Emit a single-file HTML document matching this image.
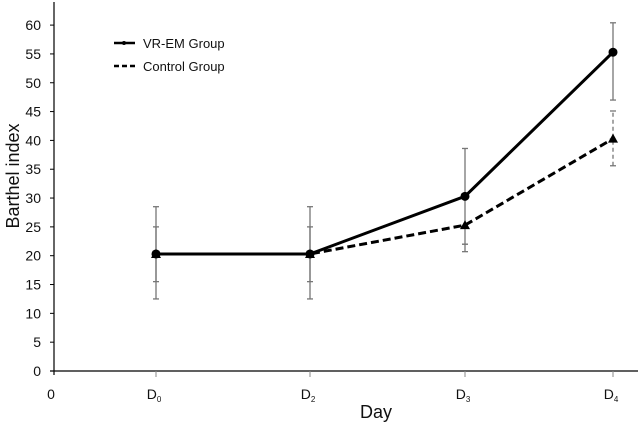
<!DOCTYPE html>
<html><head><meta charset="utf-8"><style>
body{margin:0;background:#fff;}
svg text{font-family:"Liberation Sans",sans-serif;fill:#111;}
</style></head><body>
<svg id="chart" width="638" height="424" xmlns="http://www.w3.org/2000/svg">
<g id="axes"></g>
<g id="marks"></g>
<text transform="translate(19,176) rotate(-90)" font-size="18" text-anchor="middle">Barthel index</text>
<text x="376" y="418" font-size="18" text-anchor="middle">Day</text>
<g>
<g>
<line x1="114" y1="43" x2="135" y2="43" stroke="#000" stroke-width="2.5"/><circle cx="124" cy="43" r="2" fill="#000"/>
<text x="143" y="48" font-size="13">VR-EM Group</text></g>
<g>
<line x1="114" y1="66" x2="135" y2="66" stroke="#000" stroke-width="2.5" stroke-dasharray="5,3"/>
<text x="143" y="71" font-size="13">Control Group</text></g>
</g>
</svg>
<script>
const categories=["D0","D2","D3","D4"];
const vrValues=[20.3,20.3,30.3,55.3];
const controlValues=[20.3,20.3,25.3,40.3];
const vrLow=[12.5,12.5,22,47];
const vrHigh=[28.5,28.5,38.6,60.4];
const ctrlLow=[15.5,15.5,20.7,35.6];
const ctrlHigh=[25,25,22,45.1];
const yTicks=[0,5,10,15,20,25,30,35,40,45,50,55,60];

const NS="http://www.w3.org/2000/svg";
const xPos=[156,310,465,613];
function xScale(i){return xPos[i];}
function yScale(v){return 371-5.765*v;}
function mk(tag,attrs,parent){const e=document.createElementNS(NS,tag);for(const k in attrs)e.setAttribute(k,attrs[k]);parent.appendChild(e);return e;}
const axes=document.getElementById('axes'),marks=document.getElementById('marks');
let a=mk('line',{x1:54,y1:2,x2:54,y2:375,stroke:'#000','stroke-width':1.2},axes);


a=mk('line',{x1:50,y1:371,x2:638,y2:371,stroke:'#000','stroke-width':1.2},axes);


yTicks.forEach(v=>{
  mk('line',{x1:50,y1:yScale(v),x2:54,y2:yScale(v),stroke:'#000'},axes);
  const t=mk('text',{x:41,y:yScale(v)+5,'font-size':14,'text-anchor':'end'},axes);
  t.textContent=v;
  
  
});
let z=mk('text',{x:51,y:399,'font-size':14,'text-anchor':'middle'},axes);z.textContent='0';


categories.forEach((c,i)=>{
  const x=xScale(i);
  mk('line',{x1:x,y1:371,x2:x,y2:377,stroke:'#888'},axes);
  const t=mk('text',{x:x-2,y:399,'font-size':14,'text-anchor':'middle'},axes);
  t.innerHTML=c[0]+'<tspan font-size="8" dy="3">'+c.slice(1)+'</tspan>';
  
  
});
function errbar(i,lo,hi,dash,name){
  const x=xScale(i);const g=mk('g',{},marks);
  
  
  const l=mk('line',{x1:x,y1:yScale(lo),x2:x,y2:yScale(hi),stroke:'#777','stroke-width':1.3},g);
  if(dash)l.setAttribute('stroke-dasharray','4,3');
  [lo,hi].forEach(v=>mk('line',{x1:x-3,y1:yScale(v),x2:x+3,y2:yScale(v),stroke:'#777','stroke-width':1.3},g));
}
categories.forEach((c,i)=>{errbar(i,ctrlLow[i],ctrlHigh[i],i==3,'control-error-bar');errbar(i,vrLow[i],vrHigh[i],false,'vr-em-error-bar');});
let p=mk('polyline',{points:controlValues.map((v,i)=>xScale(i)+','+yScale(v)).join(' '),fill:'none',stroke:'#000','stroke-width':3,'stroke-dasharray':'8,4'},marks);


p=mk('polyline',{points:vrValues.map((v,i)=>xScale(i)+','+yScale(v)).join(' '),fill:'none',stroke:'#000','stroke-width':3},marks);


controlValues.forEach((v,i)=>{
  const x=xScale(i),y=yScale(v);
  const m=mk('polygon',{points:`${x-5},${y+4} ${x+5},${y+4} ${x},${y-5}`,fill:'#000'},marks);
  
  
});
vrValues.forEach((v,i)=>{
  const m=mk('circle',{cx:xScale(i),cy:yScale(v),r:4.5,fill:'#000'},marks);
  
  
});
</script>
</body></html>
